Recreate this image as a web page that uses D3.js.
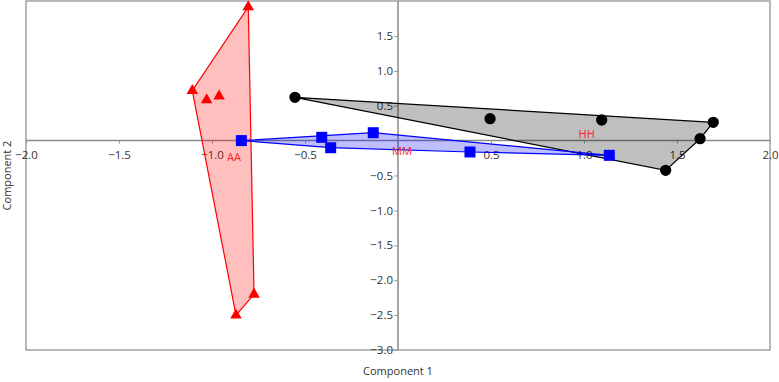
<!DOCTYPE html>
<html>
<head>
<meta charset="utf-8">
<script src="https://cdn.jsdelivr.net/npm/d3@7"></script>
<style>
  body { margin: 0; background: #fff; }
  svg text { font-family: "Open Sans", "Noto Sans", sans-serif; }
</style>
</head>
<body>
<div id="chart"></div>
<script>
// scores per group
const groupNames = ['AA', 'HH', 'MM']
const aaX = [-0.805, -1.106, -1.029, -0.962, -0.871, -0.774]
const aaY = [1.914, 0.715, 0.582, 0.635, -2.501, -2.202]
const mmX = [-0.842, -0.410, -0.362, -0.133, 0.387, 1.136]
const mmY = [0.000, 0.047, -0.102, 0.113, -0.163, -0.211]
const hhX = [-0.554, 0.495, 1.095, 1.695, 1.624, 1.439]
const hhY = [0.620, 0.314, 0.295, 0.262, 0.027, -0.426]

const xTicks = [-2.0, -1.5, -1.0, -0.5, 0.5, 1.0, 1.5, 2.0]
const yTicks = [-3.0, -2.5, -2.0, -1.5, -1.0, -0.5, 0.5, 1.0, 1.5]

const width = 779, height = 382
const margin = {left: 26, top: 1, right: 9, bottom: 32}

const svg = d3.select('#chart').append('svg')
  .attr('width', width)
  .attr('height', height)

const x = d3.scaleLinear().domain([-2, 2]).range([margin.left, width - margin.right])
const y = d3.scaleLinear().domain([-3, 2]).range([height - margin.bottom, margin.top])

const groups = [
  {name: 'AA', xs: aaX, ys: aaY, color: '#ff0000', symbol: d3.symbolTriangle, size: 58},
  {name: 'HH', xs: hhX, ys: hhY, color: '#000000', symbol: d3.symbolCircle, size: 100},
  {name: 'MM', xs: mmX, ys: mmY, color: '#0000ff', symbol: d3.symbolSquare, size: 121}
].filter(g => groupNames.includes(g.name))

// frame
svg.append('rect')
  .attr('x', x(-2)).attr('y', y(2))
  .attr('width', x(2) - x(-2)).attr('height', y(-3) - y(2))
  .attr('fill', 'none').attr('stroke', '#8a8a8a').attr('stroke-width', 1.2)

// axes through the origin
const xaxis = svg.append('g')
  .attr('transform', `translate(0,${y(0)})`)
  .call(d3.axisBottom(x).tickValues(xTicks).tickSize(3).tickPadding(7).tickFormat(d3.format('.1f')))
xaxis.select('.domain').remove()

const yaxis = svg.append('g')
  .attr('transform', `translate(${x(0)},0)`)
  .call(d3.axisLeft(y).tickValues(yTicks).tickSize(4).tickPadding(1).tickFormat(d3.format('.1f')))
yaxis.select('.domain').remove()

svg.selectAll('.tick line').attr('stroke', '#999')
svg.selectAll('.tick text').attr('fill', '#333').style('font-size', '11.5px')

svg.append('line')
  .attr('x1', x(-2)).attr('x2', x(2)).attr('y1', y(0)).attr('y2', y(0))
  .attr('stroke', '#8a8a8a').attr('stroke-width', 1.5)
svg.append('line')
  .attr('x1', x(0)).attr('x2', x(0)).attr('y1', y(2)).attr('y2', y(-3))
  .attr('stroke', '#8a8a8a').attr('stroke-width', 1.5)

// hulls
const hulls = svg.append('g')
groups.forEach(g => {
  const pts = g.xs.map((v, i) => [x(v), y(g.ys[i])])
  const hull = d3.polygonHull(pts)
  hulls.append('path')
    .attr('d', 'M' + hull.join('L') + 'Z')
    .attr('fill', g.color)
    .attr('fill-opacity', 0.25)
    .attr('stroke', g.color)
    .attr('stroke-width', 1.2)
})

// markers
const dots = svg.append('g')
groups.forEach(g => {
  dots.selectAll(null)
    .data(g.xs.map((v, i) => ({x: v, y: g.ys[i]})))
    .join('path')
    .attr('d', d3.symbol().type(g.symbol).size(g.size))
    .attr('transform', d => `translate(${x(d.x)},${y(d.y)})`)
    .attr('fill', g.color)
})

// group labels at centroid
groups.forEach(g => {
  svg.append('text')
    .attr('x', x(d3.mean(g.xs)) + 1)
    .attr('y', y(d3.mean(g.ys)) + 10.5)
    .attr('fill', '#ff2020')
    .style('font-size', '11px')
    .text(g.name)
})

// axis titles
svg.append('text')
  .attr('x', x(0)).attr('y', 375)
  .attr('text-anchor', 'middle')
  .attr('fill', '#333')
  .style('font-size', '11px')
  .text('Component 1')

svg.append('text')
  .attr('transform', `translate(11,${(y(2) + y(-3)) / 2}) rotate(-90)`)
  .attr('text-anchor', 'middle')
  .attr('fill', '#333')
  .style('font-size', '11px')
  .text('Component 2')
</script>
</body>
</html>
